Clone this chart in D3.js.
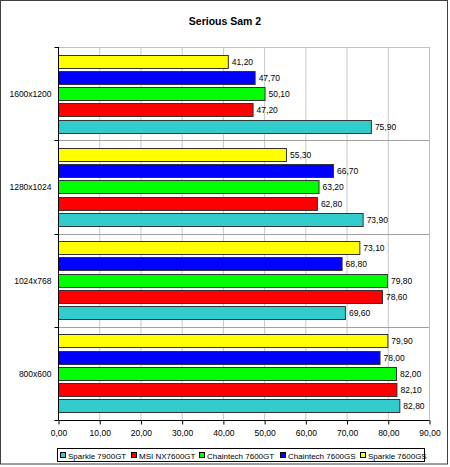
<!DOCTYPE html>
<html><head><meta charset="utf-8">
<script src="https://cdn.jsdelivr.net/npm/d3@7"></script>
<style>body{margin:0;background:#fff}svg{display:block;font-family:"Liberation Sans",Arial,sans-serif}</style>
</head><body><svg id="c" width="450" height="467"></svg>
<script>
const categories = ["1600x1200", "1280x1024", "1024x768", "800x600"];
const seriesNames = ["Sparkle 7900GT", "MSI NX7600GT", "Chaintech 7600GT", "Chaintech 7600GS", "Sparkle 7600GS"];
const seriesColors = ["#33CCCC", "#FF0000", "#00FF00", "#0000FF", "#FFFF00"];
const sparkle7900GT = [75.9, 73.9, 69.6, 82.8];
const msiNX7600GT = [47.2, 62.8, 78.6, 82.1];
const chaintech7600GT = [50.1, 63.2, 79.8, 82.0];
const chaintech7600GS = [47.7, 66.7, 68.8, 78.0];
const sparkle7600GS = [41.2, 55.3, 73.1, 79.9];
const xTicks = [0, 10, 20, 30, 40, 50, 60, 70, 80, 90];
const title = "Serious Sam 2";

const seriesValues = [sparkle7900GT, msiNX7600GT, chaintech7600GT, chaintech7600GS, sparkle7600GS];
const svg = d3.select("#c");
const L = 58, R = 429, T = 47, B = 420;
const fmt = v => d3.format(".2f")(v).replace(".", ",");
const FF = "Liberation Sans, Arial, sans-serif";

svg.append("rect").attr("x", 0.5).attr("y", 0.5).attr("width", 447).attr("height", 463.5)
  .attr("fill", "#fff").attr("stroke", "#404040");

svg.append("text").attr("x", 225).attr("y", 25).attr("text-anchor", "middle")
  .attr("font-size", 10.5).attr("font-weight", "bold").text(title);

const x = d3.scaleLinear().domain([0, 90]).range([L, R]);
const y0 = d3.scaleBand().domain(categories).range([T, B]).paddingInner(0).paddingOuter(0);
const order = seriesNames.slice().reverse();
const y1 = d3.scaleBand().domain(order).range([6, y0.bandwidth() - 6]).paddingInner(0.2).paddingOuter(0.1);

const g = svg.append("g");
g.selectAll("line.vg").data(xTicks).join("line")
  .attr("x1", d => x(d) + 0.5).attr("x2", d => x(d) + 0.5).attr("y1", T).attr("y2", B)
  .attr("stroke", "#c8c8c8");
g.selectAll("line.hg").data(categories.slice(1)).join("line")
  .attr("x1", L).attr("x2", R).attr("y1", d => Math.round(y0(d)) + 0.5).attr("y2", d => Math.round(y0(d)) + 0.5)
  .attr("stroke", "#a0a0a0");
g.append("rect").attr("x", L + 0.5).attr("y", T + 0.5).attr("width", R - L).attr("height", B - T)
  .attr("fill", "none").attr("stroke", "#c0c0c0");

const data = [];
categories.forEach((c, ci) => seriesNames.forEach((s, si) => data.push({ c, s, v: seriesValues[si][ci], col: seriesColors[si] })));
g.selectAll("rect.bar").data(data).join("rect")
  .attr("x", x(0) + 0.5).attr("y", d => Math.round(y0(d.c) + y1(d.s)) + 0.5)
  .attr("width", d => x(d.v) - x(0)).attr("height", Math.round(y1.bandwidth()))
  .attr("fill", d => d.col).attr("stroke", "#333").attr("stroke-width", 1);
g.selectAll("text.val").data(data).join("text")
  .attr("x", d => x(d.v) + 4).attr("y", d => y0(d.c) + y1(d.s) + y1.bandwidth() / 2 + 3.5)
  .attr("font-size", 8.5).attr("fill", "#000").text(d => fmt(d.v));

const xa = svg.append("g").attr("transform", `translate(0.5,${B + 0.5})`)
  .call(d3.axisBottom(x).tickValues(xTicks).tickSize(4).tickFormat(fmt));
xa.select(".domain").attr("stroke", "#000").attr("d", `M${L},0H${R}`);
xa.selectAll(".tick line").attr("stroke", "#000");
xa.selectAll("text").attr("font-size", 8.5).attr("font-family", FF).attr("dy", "0.95em");

const ya = svg.append("g").attr("transform", `translate(${L + 0.5},0)`);
ya.append("line").attr("x1", 0).attr("x2", 0).attr("y1", T).attr("y2", B).attr("stroke", "#000");
const bounds = categories.map(c => y0(c)).concat([B]);
ya.selectAll("line.t").data(bounds).join("line")
  .attr("x1", -4).attr("x2", 0).attr("y1", d => Math.round(d) + 0.5).attr("y2", d => Math.round(d) + 0.5).attr("stroke", "#000");
ya.selectAll("text").data(categories).join("text")
  .attr("x", -7).attr("y", d => y0(d) + y0.bandwidth() / 2 + 3.5).attr("text-anchor", "end")
  .attr("font-size", 8.5).text(d => d);

// legend
const lg = svg.append("g");
lg.append("rect").attr("x", 57.5).attr("y", 448.5).attr("width", 367).attr("height", 13)
  .attr("fill", "#fff").attr("stroke", "#000");
const itemX = [60, 131, 199, 280, 360];
seriesNames.forEach((s, i) => {
  lg.append("rect").attr("x", itemX[i] + 0.5).attr("y", 452.5).attr("width", 5).attr("height", 5)
    .attr("fill", seriesColors[i]).attr("stroke", "#000");
  lg.append("text").attr("x", itemX[i] + 8).attr("y", 458.5).attr("font-size", 8).text(s);
});
</script></body></html>
